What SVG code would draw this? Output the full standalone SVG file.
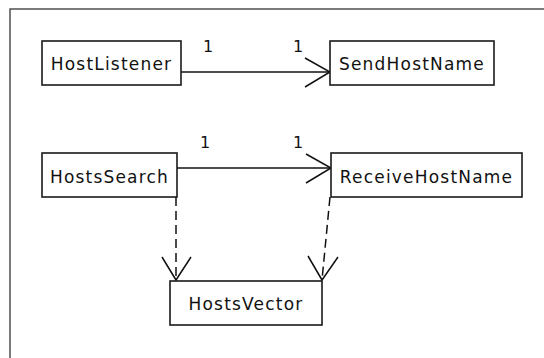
<svg xmlns="http://www.w3.org/2000/svg" width="544" height="358" viewBox="0 0 544 358">
<style>
.box{fill:#fff;stroke:#1a1a1a;stroke-width:1.6}
.lbl{font-family:"DejaVu Sans",sans-serif;font-size:17px;letter-spacing:1.2px;fill:#111;text-anchor:middle}
.mult{font-family:"DejaVu Sans",sans-serif;font-size:16px;fill:#111;text-anchor:middle}
.ln{fill:none;stroke:#111;stroke-width:1.5}
.dash{fill:none;stroke:#111;stroke-width:1.5;stroke-dasharray:9 5}
</style>
<rect x="0" y="0" width="544" height="358" fill="#fff"/>
<rect x="10" y="9" width="600" height="400" fill="none" stroke="#444" stroke-width="1.4"/>
<g id="connectors">
<line class="ln" x1="181" y1="72" x2="330" y2="72"/>
<polyline class="ln" points="305,58 330,72 305,87"/>
<text class="mult" x="208" y="52">1</text>
<text class="mult" x="298" y="52">1</text>
<line class="ln" x1="177" y1="168" x2="331" y2="168"/>
<polyline class="ln" points="306,154 331,168 306,183"/>
<text class="mult" x="205" y="148">1</text>
<text class="mult" x="298" y="148">1</text>
<line class="dash" x1="176" y1="197" x2="176" y2="280"/>
<polyline class="ln" points="162,257 176,280 191,257"/>
<line class="dash" x1="330" y1="197" x2="322" y2="280"/>
<polyline class="ln" points="308,256 322,280 338,257"/>
</g>
<g id="HostListener"><rect class="box" x="42" y="41" width="139" height="44"/><text class="lbl" x="111.5" y="70">HostListener</text></g>
<g id="SendHostName"><rect class="box" x="330" y="41" width="164" height="44"/><text class="lbl" x="412" y="70">SendHostName</text></g>
<g id="HostsSearch"><rect class="box" x="42" y="153" width="135" height="44"/><text class="lbl" x="109.5" y="183">HostsSearch</text></g>
<g id="ReceiveHostName"><rect class="box" x="331" y="153" width="191" height="44"/><text class="lbl" x="426.5" y="183">ReceiveHostName</text></g>
<g id="HostsVector"><rect class="box" x="170" y="281" width="152" height="44"/><text class="lbl" x="246" y="310">HostsVector</text></g>
</svg>
